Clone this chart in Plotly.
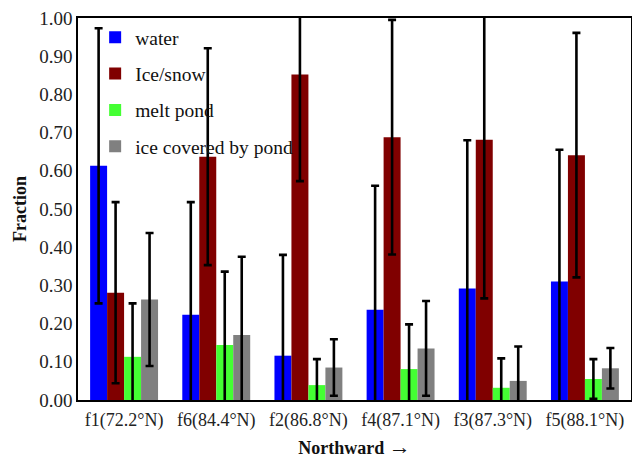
import plotly.graph_objects as go

categories = ["f1(72.2°N)", "f6(84.4°N)", "f2(86.8°N)", "f4(87.1°N)", "f3(87.3°N)", "f5(88.1°N)"]

water = [0.613, 0.223, 0.116, 0.236, 0.292, 0.310]
water_err = [0.360, 0.295, 0.264, 0.325, 0.388, 0.345]

ice_snow = [0.281, 0.637, 0.852, 0.688, 0.681, 0.641]
ice_snow_err = [0.237, 0.284, 0.279, 0.307, 0.415, 0.320]

melt_pond = [0.113, 0.144, 0.039, 0.081, 0.032, 0.055]
melt_pond_err = [0.140, 0.192, 0.068, 0.117, 0.077, 0.052]

ice_pond = [0.263, 0.170, 0.085, 0.135, 0.050, 0.083]
ice_pond_err = [0.174, 0.205, 0.074, 0.124, 0.090, 0.053]

series = [
    ("water", water, water_err, "#0000FF"),
    ("Ice/snow", ice_snow, ice_snow_err, "#800000"),
    ("melt pond", melt_pond, melt_pond_err, "#44FF33"),
    ("ice covered by pond", ice_pond, ice_pond_err, "#808080"),
]

FONT = "Liberation Serif, serif"

fig = go.Figure()
for name, vals, errs, color in series:
    fig.add_trace(go.Bar(
        name=name, x=categories, y=vals, legendgroup=name,
        marker=dict(color=color, line=dict(width=0)),
        error_y=dict(type="data", array=errs, visible=True,
                     color="black", thickness=2.6, width=4),
    ))

fig.update_layout(
    width=632, height=459,
    margin=dict(l=78, r=1, t=18, b=59),
    paper_bgcolor="white", plot_bgcolor="white",
    barmode="group", bargap=0.263, bargroupgap=0,
    font=dict(family=FONT, size=18, color="#222222"),
    legend=dict(x=0.031, y=1.0, xanchor="left", yanchor="top",
                bgcolor="rgba(0,0,0,0)", tracegroupgap=8,
                font=dict(family=FONT, size=19.5, color="#111111")),
    xaxis=dict(showline=True, linecolor="black", linewidth=1.5, mirror=True,
               ticks="", showgrid=False, automargin=False, ticklabelstandoff=3,
               tickfont=dict(family=FONT, size=18),
               title=dict(text="<b>Northward <span style='font-size:22px'>→</span></b>",
                          font=dict(family=FONT, size=18, color="#111111"), standoff=13)),
    yaxis=dict(range=[0, 1], dtick=0.1, tickformat=".2f", showline=True,
               linecolor="black", linewidth=1.5, mirror=True, ticks="",
               showgrid=False, zeroline=False, automargin=False,
               tickfont=dict(family=FONT, size=19),
               title=dict(text="<b>Fraction</b>", font=dict(family=FONT, size=18, color="#111111"),
                          standoff=8)),
)

fig.write_html("out.html", config={"displayModeBar": False},
               post_script="document.body.style.margin='0';document.body.style.padding='0';")
